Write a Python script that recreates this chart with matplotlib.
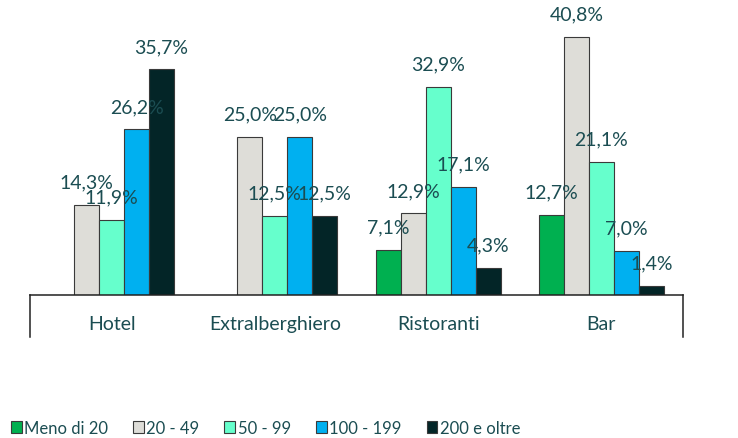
import numpy as np
import matplotlib
matplotlib.use("Agg")
import matplotlib.pyplot as plt
from matplotlib.patches import Patch

# data (percent)
categories = ["Hotel", "Extralberghiero", "Ristoranti", "Bar"]
series = ["Meno di 20", "20 - 49", "50 - 99", "100 - 199", "200 e oltre"]
meno_20 = [0.0, 0.0, 7.1, 12.7]
da_20_49 = [14.3, 25.0, 12.9, 40.8]
da_50_99 = [11.9, 12.5, 32.9, 21.1]
da_100_199 = [26.2, 25.0, 17.1, 7.0]
oltre_200 = [35.7, 12.5, 4.3, 1.4]
values = [meno_20, da_20_49, da_50_99, da_100_199, oltre_200]

colors = ["#00B050", "#DEDDD8", "#66FFCC", "#00B0F0", "#032527"]
text_color = "#1B4D52"

plt.rcParams['font.family'] = ['Lato', 'DejaVu Sans']

fig = plt.figure(figsize=(7.38, 4.39), dpi=100)
W, H = 738, 439
# axes placed in pixel terms: left 30, right 683, baseline 296, top ~12
ax = fig.add_axes([30 / W, 1 - 296 / H, (683 - 30) / W, (296 - 11.6) / H])

x = np.arange(len(categories))
bw = 0.153
for i, (vals, c) in enumerate(zip(values, colors)):
    pos = x + (i - 2) * bw
    ax.bar(pos, vals, width=bw, color=c, edgecolor="#3a3a3a", linewidth=0.8)
    for px, v in zip(pos, vals):
        if v > 0:
            ax.annotate(f"{v:.1f}".replace(".", ",") + "%", (px, v),
                        xytext=(0, 12.5), textcoords="offset points",
                        ha="center", va="baseline", fontsize=14,
                        color=text_color)

ax.set_xlim(-0.5, 3.5)
ax.set_ylim(0, 45)
ax.set_yticks([])
ax.set_xticks(x)
ax.set_xticklabels(categories, fontsize=14, color=text_color)
ax.tick_params(axis="x", length=0, pad=14.5)
for s in ["top", "left", "right"]:
    ax.spines[s].set_visible(False)
ax.spines["bottom"].set_color("#222222")
ax.spines["bottom"].set_linewidth(1.1)

# vertical lines closing the category box below the axis
drop = (338 - 296) / (296 - 11.6)
ax.plot([0, 0], [0, -drop], transform=ax.transAxes, clip_on=False,
        color="#222222", lw=1.1)
ax.plot([1, 1], [0, -drop], transform=ax.transAxes, clip_on=False,
        color="#222222", lw=1.1)

handles = [Patch(facecolor=c, edgecolor="#3a3a3a", linewidth=0.8) for c in colors]
fig.legend(handles, series, ncol=5, loc="center left",
           bbox_to_anchor=(4 / W, 1 - 429 / H), frameon=False, fontsize=12,
           labelcolor=text_color, handlelength=0.65, handleheight=0.75,
           handletextpad=0.15, columnspacing=1.5, borderaxespad=0.0)

fig.savefig("out.png", dpi=100)
